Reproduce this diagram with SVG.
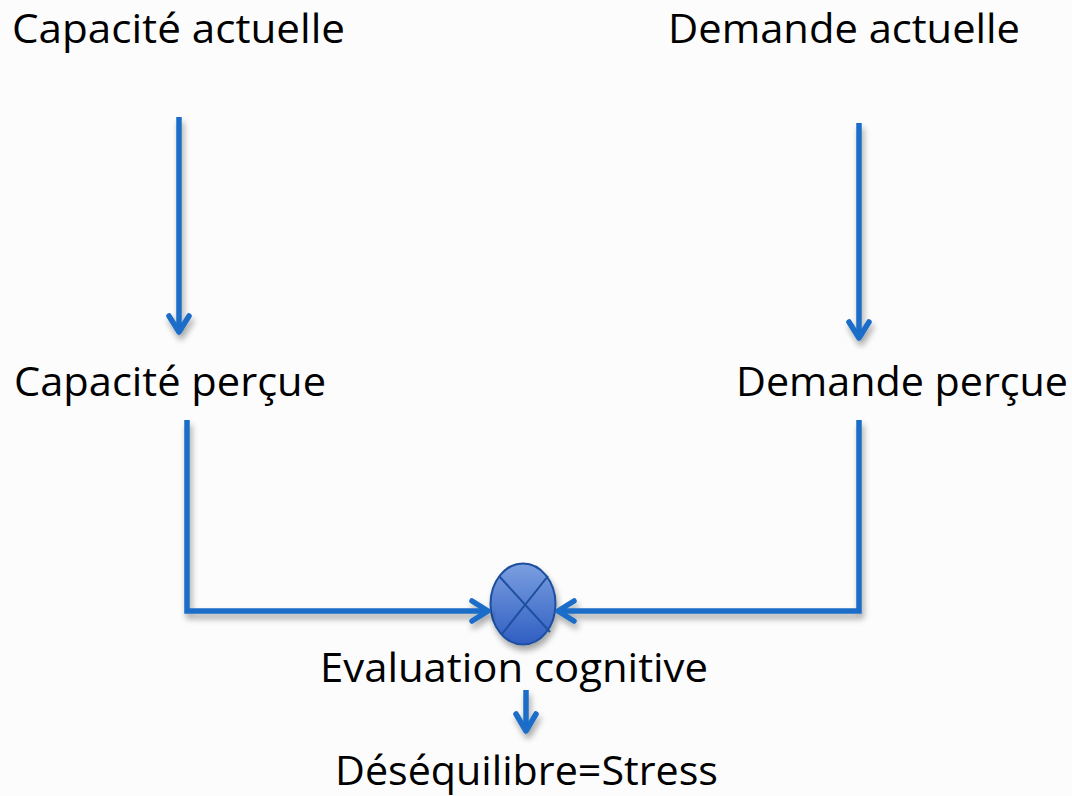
<svg xmlns="http://www.w3.org/2000/svg" width="1072" height="796" viewBox="0 0 1072 796">
<defs>
<style>
.lbl{font-family:"Open Sans","Liberation Sans",Arial,sans-serif;font-size:40px;fill:#000}
.ln{fill:none;stroke:#1a6dc8;stroke-width:5.5;stroke-linejoin:miter}
.hd{fill:none;stroke:#1a6dc8;stroke-width:5.5;stroke-linecap:round;stroke-linejoin:round}
</style>
<linearGradient id="eg" x1="0" y1="0" x2="0" y2="1">
<stop offset="0" stop-color="#7b9fe0"/>
<stop offset="1" stop-color="#2f5ec2"/>
</linearGradient>
<filter id="sh" x="-20%" y="-20%" width="140%" height="140%">
<feGaussianBlur in="SourceAlpha" stdDeviation="3"/>
<feOffset dx="2" dy="5" result="b"/>
<feComponentTransfer><feFuncA type="linear" slope="0.35"/></feComponentTransfer>
<feMerge><feMergeNode/><feMergeNode in="SourceGraphic"/></feMerge>
</filter>
</defs>
<rect width="1072" height="796" fill="#fcfcfc"/>
<g id="n-capacite-actuelle"><text class="lbl" x="12" y="43" textLength="333" lengthAdjust="spacingAndGlyphs">Capacité actuelle</text></g>
<g id="n-demande-actuelle"><text class="lbl" x="668" y="43" textLength="352" lengthAdjust="spacingAndGlyphs">Demande actuelle</text></g>
<g id="n-capacite-percue"><text class="lbl" x="14" y="396" textLength="312" lengthAdjust="spacingAndGlyphs">Capacité perçue</text></g>
<g id="n-demande-percue"><text class="lbl" x="736" y="396" textLength="332" lengthAdjust="spacingAndGlyphs">Demande perçue</text></g>
<g id="n-evaluation">
<ellipse cx="523" cy="604" rx="32.5" ry="40.5" fill="url(#eg)" stroke="#1d4f9e" stroke-width="2" filter="url(#sh)"/>
<line x1="499" y1="576" x2="550" y2="632" stroke="#1d4f9e" stroke-width="2"/>
<line x1="548" y1="576" x2="502" y2="634" stroke="#1d4f9e" stroke-width="2"/>
<text class="lbl" x="320" y="682" textLength="388" lengthAdjust="spacingAndGlyphs">Evaluation cognitive</text>
</g>
<g id="n-stress"><text class="lbl" x="335" y="785" textLength="383" lengthAdjust="spacingAndGlyphs">Déséquilibre=Stress</text></g>
<g id="connectors" filter="url(#sh)">
<path class="ln" d="M179 117 V331"/>
<path class="hd" d="M169 316 L179 332 L189 316"/>
<path class="ln" d="M859 123 V338"/>
<path class="hd" d="M849 322 L859 338 L869 322"/>
<path class="ln" d="M187 420 V611 H487"/>
<path class="hd" d="M472 601 L488 611 L472 621"/>
<path class="ln" d="M859 420 V611 H559"/>
<path class="hd" d="M574 601 L558 611 L574 621"/>
<path class="ln" d="M526 690 V730"/>
<path class="hd" d="M516 714 L526 731 L536 714"/>
</g>
</svg>
